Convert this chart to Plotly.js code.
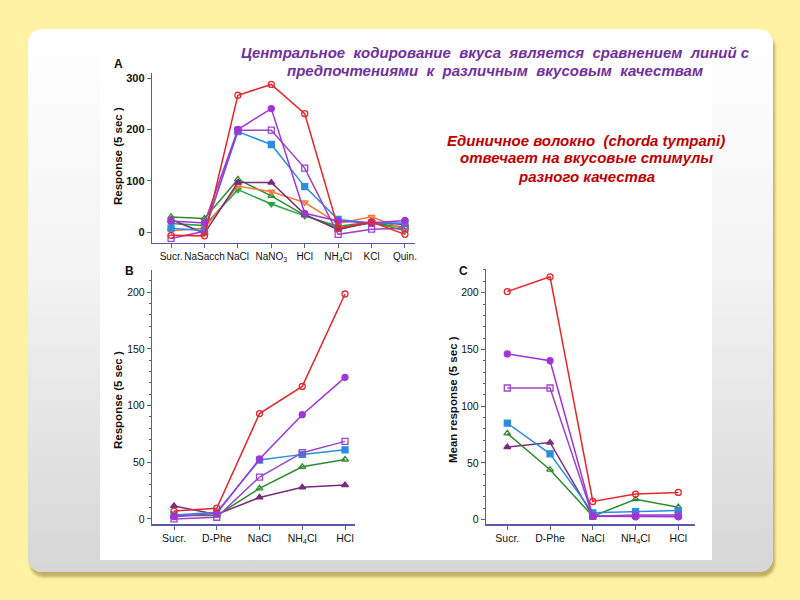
<!DOCTYPE html>
<html><head><meta charset="utf-8">
<script src="https://cdn.plot.ly/plotly-3.0.1.min.js"></script>
<style>
html,body{margin:0;padding:0;width:800px;height:600px;overflow:hidden;background:#fff2a2;}
#panel{position:absolute;left:28px;top:29px;width:745px;height:543px;border-radius:14px;background:linear-gradient(to bottom,#ffffff 0%,#f3f3f3 45%,#d6d6d6 100%);box-shadow:2px 5px 3px rgba(140,120,50,0.55);}
#pic{position:absolute;left:100px;top:45px;width:612px;height:515px;background:#fff;}
#chart{position:absolute;left:0;top:0;width:800px;height:600px;}
</style></head><body>
<div id="panel"></div><div id="pic"></div><div id="chart"></div>
<script>
// ---------- Panel A ----------
const catsA = ['Sucr.', 'NaSacch', 'NaCl', 'NaNO<sub>3</sub>', 'HCl', 'NH<sub>4</sub>Cl', 'KCl', 'Quin.'];
const aRed       = [-6, -7, 267, 288, 231, 8, 20, -4];
const aPurple    = [22, 18, 200, 241, 37, 22, 18, 23];
const aPurpleSq  = [-12, 2, 199, 199, 125, -4, 6, 8];
const aBlue      = [8, 3, 196, 171, 89, 25, 18, 18];
const aDarkTri   = [25, -2, 97, 97, 35, 5, 20, 15];
const aOrange    = [3, 8, 90, 79, 58, 17, 30, 5];
const aGreenOpen = [30, 27, 103, 71, 33, 8, 18, 10];
const aGreenFill = [17, 13, 83, 55, 32, 12, 20, 3];

// ---------- Panel B ----------
const catsBC = ['Sucr.', 'D-Phe', 'NaCl', 'NH<sub>4</sub>Cl', 'HCl'];
const bRed       = [7, 9.5, 93, 117, 198.5];
const bPurple    = [2, 5, 53, 92, 125];
const bPurpleSq  = [0, 1.5, 37, 58.5, 68.5];
const bBlue      = [3.5, 6, 52, 57, 61];
const bGreenOpen = [3, 3, 27, 46, 52.5];
const bDarkTri   = [11.5, 4, 19, 28, 30];

// ---------- Panel C ----------
const cRed       = [201, 214, 16, 22.5, 24];
const cPurple    = [146, 140, 3, 2.5, 2.5];
const cPurpleSq  = [116, 116, 3, 4, 4];
const cBlue      = [85, 58, 6, 7, 8];
const cGreenOpen = [76, 44, 3, 18, 11];
const cDarkTri   = [64, 68, 3, 3, 3];

const COL = {
  red: '#e8262a', purple: '#a035d8', purpleSq: '#9a45cc', blue: '#2a8de0',
  darkTri: '#7a2c7c', orange: '#f07a3a', greenOpen: '#2f8a2f', greenFill: '#1fa83a'
};

function tr(x, y, xa, ya, color, symbol) {
  return {
    x: x, y: y, xaxis: xa, yaxis: ya, type: 'scatter', mode: 'lines+markers',
    line: {color: color, width: 1.5},
    marker: {symbol: symbol, size: 6, color: color, line: {color: color, width: 1.3}},
    showlegend: false, hoverinfo: 'skip'
  };
}

const data = [
  tr(catsA, aGreenFill, 'x', 'y', COL.greenFill, 'triangle-down'),
  tr(catsA, aGreenOpen, 'x', 'y', COL.greenOpen, 'triangle-up-open'),
  tr(catsA, aOrange, 'x', 'y', COL.orange, 'triangle-down-open'),
  tr(catsA, aDarkTri, 'x', 'y', COL.darkTri, 'triangle-up'),
  tr(catsA, aBlue, 'x', 'y', COL.blue, 'square'),
  tr(catsA, aPurpleSq, 'x', 'y', COL.purpleSq, 'square-open'),
  tr(catsA, aPurple, 'x', 'y', COL.purple, 'circle'),
  tr(catsA, aRed, 'x', 'y', COL.red, 'circle-open'),

  tr(catsBC, bDarkTri, 'x2', 'y2', COL.darkTri, 'triangle-up'),
  tr(catsBC, bGreenOpen, 'x2', 'y2', COL.greenOpen, 'triangle-up-open'),
  tr(catsBC, bBlue, 'x2', 'y2', COL.blue, 'square'),
  tr(catsBC, bPurpleSq, 'x2', 'y2', COL.purpleSq, 'square-open'),
  tr(catsBC, bPurple, 'x2', 'y2', COL.purple, 'circle'),
  tr(catsBC, bRed, 'x2', 'y2', COL.red, 'circle-open'),

  tr(catsBC, cDarkTri, 'x3', 'y3', COL.darkTri, 'triangle-up'),
  tr(catsBC, cGreenOpen, 'x3', 'y3', COL.greenOpen, 'triangle-up-open'),
  tr(catsBC, cBlue, 'x3', 'y3', COL.blue, 'square'),
  tr(catsBC, cPurpleSq, 'x3', 'y3', COL.purpleSq, 'square-open'),
  tr(catsBC, cPurple, 'x3', 'y3', COL.purple, 'circle'),
  tr(catsBC, cRed, 'x3', 'y3', COL.red, 'circle-open')
];

const AX = '#5a5aa8';
const F = 'Liberation Sans, Arial, sans-serif';
const W = 800, H = 600;
const px = v => v / W, py = v => 1 - v / H;

function xax(dom, range, anchor, fs) {
  return {domain: dom, range: range, type: 'category', anchor: anchor,
    showline: true, linecolor: AX, linewidth: 1.2, ticks: 'outside', ticklen: 4,
    tickcolor: AX, tickwidth: 1, showgrid: false, zeroline: false, tickangle: 0,
    tickfont: {family: F, size: fs, color: '#111'}, fixedrange: true};
}
function yax(dom, range, anchor, tickvals, bold, minor) {
  const o = {domain: dom, range: range, anchor: anchor,
    showline: true, linecolor: AX, linewidth: 1.2, ticks: 'outside', ticklen: 4,
    tickcolor: AX, tickwidth: 1, showgrid: false, zeroline: false, tickvals: tickvals,
    tickfont: {family: F, size: bold ? 11 : 10.5, color: '#111', weight: bold ? 'bold' : 'normal'},
    fixedrange: true};
  if (minor) o.minor = {ticks: 'outside', ticklen: 2, dtick: 10, tickcolor: AX, tickwidth: 1};
  return o;
}

const ann = [];
function txt(x, y, text, font, opts) {
  ann.push(Object.assign({xref: 'paper', yref: 'paper', x: px(x), y: py(y), text: text,
    showarrow: false, xanchor: 'center', yanchor: 'middle', font: font}, opts || {}));
}
const bf = s => ({family: F, size: s, color: '#111', weight: 'bold'});
txt(118, 64, 'A', bf(12));
txt(129, 271, 'B', bf(12));
txt(463, 271, 'C', bf(12));
txt(118, 156, 'Response (5 sec )', bf(11.5), {textangle: -90});
txt(118, 400, 'Response (5 sec )', bf(11.5), {textangle: -90});
txt(453, 400, 'Mean response (5 sec )', bf(11.5), {textangle: -90});

const PUR = '#7030a0', RED = '#c00000';
const tf = (c, s) => ({family: F, size: s, color: c, weight: 'bold', style: 'italic'});
txt(495, 52, 'Центральное\u00a0 кодирование\u00a0 вкуса\u00a0 является\u00a0 сравнением\u00a0 линий с', tf(PUR, 15));
txt(495, 71, 'предпочтениями\u00a0 к\u00a0 различным\u00a0 вкусовым\u00a0 качествам', tf(PUR, 15));
txt(586, 140, 'Единичное волокно\u00a0 (chorda tympani)', tf(RED, 15));
txt(586, 158, 'отвечает на вкусовые стимулы', tf(RED, 15));
txt(586, 177, 'разного качества', tf(RED, 15));

const layout = {
  width: W, height: H, margin: {l: 0, r: 0, t: 0, b: 0},
  paper_bgcolor: 'rgba(0,0,0,0)', plot_bgcolor: 'rgba(0,0,0,0)',
  showlegend: false,
  xaxis:  xax([px(152), px(415)], [-0.57, 7.3], 'y', 10),
  yaxis:  yax([py(242.7), py(73)], [-20.3, 310.3], 'x', [0, 100, 200, 300], true, false),
  xaxis2: xax([px(152), px(355)], [-0.515, 4.234], 'y2', 10.5),
  yaxis2: yax([py(524.3), py(270)], [-4.7, 219.7], 'x2', [0, 50, 100, 150, 200], false, true),
  xaxis3: xax([px(486), px(695)], [-0.498, 4.39], 'y3', 10.5),
  yaxis3: yax([py(524.3), py(269.3)], [-4.1, 220.6], 'x3', [0, 50, 100, 150, 200], false, true),
  annotations: ann
};

Plotly.newPlot('chart', data, layout, {staticPlot: true, displayModeBar: false});
</script></body></html>
